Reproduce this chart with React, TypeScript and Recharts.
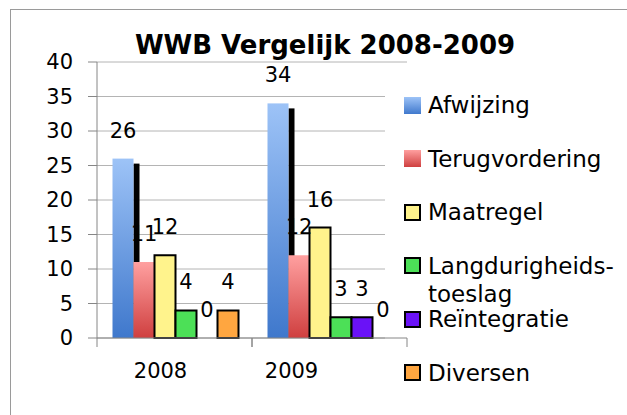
import React from 'react';
import { BarChart, Bar, XAxis, YAxis, CartesianGrid, LabelList, Legend, Rectangle } from 'recharts';

const categories = ['2008', '2009'];
const afwijzing = [26, 34];
const terugvordering = [11, 12];
const maatregel = [12, 16];
const langdurigheidstoeslag = [4, 3];
const reintegratie = [0, 3];
const diversen = [4, 0];
const yTicks = [0, 5, 10, 15, 20, 25, 30, 35, 40];

const series = [
  { key: 'afwijzing', name: 'Afwijzing', values: afwijzing, fill: 'url(#gradBlue)', swatch: 'linear-gradient(#9dc3f7, #4079cd)', border: false },
  { key: 'terugvordering', name: 'Terugvordering', values: terugvordering, fill: 'url(#gradRed)', swatch: 'linear-gradient(#ff9f9f, #cf4040)', border: false },
  { key: 'maatregel', name: 'Maatregel', values: maatregel, fill: '#fff38c', swatch: '#fff38c', border: true },
  { key: 'langdurigheidstoeslag', name: 'Langdurigheids-toeslag', values: langdurigheidstoeslag, fill: '#4ce057', swatch: '#4ce057', border: true },
  { key: 'reintegratie', name: 'Reïntegratie', values: reintegratie, fill: '#6a12f7', swatch: '#6a12f7', border: true },
  { key: 'diversen', name: 'Diversen', values: diversen, fill: '#ffa640', swatch: '#ffa640', border: true },
];

const data = categories.map((year, i) => {
  const row: any = { year };
  series.forEach(s => {
    row[s.key] = s.values[i];
  });
  return row;
});

const FONT = '"DejaVu Sans", sans-serif';

// blauwe balk met de zwarte "schaduw" rechts ervan
const ShadowBar = (props: any) => {
  const { x, y, width, height, fill } = props;
  if (!height) return null;
  return (
    <g>
      <rect x={x + width} y={y + 5} width={6} height={Math.max(height - 5, 0)} fill="#000" />
      <rect x={x} y={y} width={width} height={height} fill={fill} />
    </g>
  );
};

// balk van waarde 0 niet tekenen (minPointSize houdt alleen het label in leven)
const makeBar = (key: string) => (props: any) => {
  if (props.payload && props.payload[key] === 0) return null;
  return <Rectangle {...props} />;
};

const ValueLabel = (props: any) => {
  const { x, y, width, height, value } = props;
  if (value === undefined || value === null) return null;
  const top = value === 0 ? y + height : y;
  return (
    <text x={x + width / 2} y={top - 21} textAnchor="middle" fontSize={21} fill="#000">
      {value}
    </text>
  );
};

// gridlijnen stoppen waar de legenda begint (behalve de bovenste)
const GridLine = (props: any) => {
  const { x1, x2, y1, y2 } = props;
  const end = y1 < 80 ? x2 : 385;
  return <line x1={x1} x2={end} y1={y1} y2={y2} stroke="#b4b4b4" strokeWidth={1} />;
};

const tickShift = [-14, -38];

const YearTick = (props: any) => {
  const { x, y, payload, index, width, visibleTicksCount } = props;
  const half = width && visibleTicksCount ? width / visibleTicksCount / 2 : 77.5;
  return (
    <g>
      <line x1={x - half} x2={x - half} y1={y - 9} y2={y} stroke="#868686" />
      <line x1={x + half} x2={x + half} y1={y - 9} y2={y} stroke="#868686" />
      <text x={x + (tickShift[index] || 0)} y={y + 31} textAnchor="middle" fontSize={21} fill="#000">
        {payload.value}
      </text>
    </g>
  );
};

const LegendContent = () => (
  <div style={{ fontFamily: FONT, fontSize: 23, color: '#000' }}>
    {series.map(s => (
      <div key={s.key} style={{ height: 53.5, display: 'flex', alignItems: 'flex-start' }}>
        <div
          style={{
            width: 17,
            height: 17,
            marginTop: 5.5,
            boxSizing: 'border-box',
            background: s.swatch,
            border: s.border ? '2px solid #000' : 'none',
            flexShrink: 0,
          }}
        />
        <div style={{ marginLeft: 7, lineHeight: '28px', width: 192, whiteSpace: 'normal' }}>{s.name}</div>
      </div>
    ))}
  </div>
);

export default function App() {
  return (
    <div style={{ position: 'absolute', left: 0, top: 0, width: 627, height: 415, overflow: 'hidden', background: '#fff', fontFamily: FONT }}>
      <div style={{ position: 'absolute', left: 10, top: 9, width: 700, height: 500, borderLeft: '1px solid #9a9a9a', borderTop: '1px solid #9a9a9a' }} />
      <div style={{ position: 'absolute', left: 0, top: 0 }}>
        <BarChart
          width={627}
          height={415}
          data={data}
          margin={{ top: 62, right: 220, bottom: 0, left: 0 }}
          barCategoryGap="10%"
          barGap={0}
        >
          <defs>
            <linearGradient id="gradBlue" x1="0" y1="0" x2="0" y2="1">
              <stop offset="0%" stopColor="#9dc3f7" />
              <stop offset="100%" stopColor="#3f78cc" />
            </linearGradient>
            <linearGradient id="gradRed" x1="0" y1="0" x2="0" y2="1">
              <stop offset="0%" stopColor="#ffa0a0" />
              <stop offset="100%" stopColor="#cf3f3f" />
            </linearGradient>
          </defs>
          <CartesianGrid vertical={false} horizontal={GridLine as any} />
          <XAxis
            dataKey="year"
            height={77}
            axisLine={{ stroke: '#868686' }}
            tickLine={false}
            tickSize={9}
            tickMargin={0}
            tick={YearTick}
            interval={0}
          />
          <YAxis
            width={97}
            domain={[0, 40]}
            ticks={yTicks}
            interval={0}
            axisLine={{ stroke: '#868686' }}
            tickLine={{ stroke: '#868686' }}
            tickSize={9}
            tickMargin={15}
            tick={{ fontSize: 21, fill: '#000' }}
          />
          <Legend
            layout="vertical"
            align="center"
            verticalAlign="middle"
            content={LegendContent}
            wrapperStyle={{ left: 404, top: 91, width: 223 }}
          />
          {series.map((s, i) => (
            <Bar
              key={s.key}
              dataKey={s.key}
              name={s.name}
              fill={s.fill}
              stroke={s.border ? '#000' : 'none'}
              strokeWidth={s.border ? 2 : 0}
              minPointSize={1}
              shape={i === 0 ? ShadowBar : makeBar(s.key)}
              isAnimationActive={false}
            >
              <LabelList dataKey={s.key} content={ValueLabel} />
            </Bar>
          ))}
        </BarChart>
      </div>
      <div
        style={{
          position: 'absolute',
          left: 0,
          top: 29,
          width: 650,
          textAlign: 'center',
          fontFamily: FONT,
          fontWeight: 'bold',
          fontSize: 26,
          lineHeight: '32px',
          color: '#000',
        }}
      >
        WWB Vergelijk 2008-2009
      </div>
    </div>
  );
}
